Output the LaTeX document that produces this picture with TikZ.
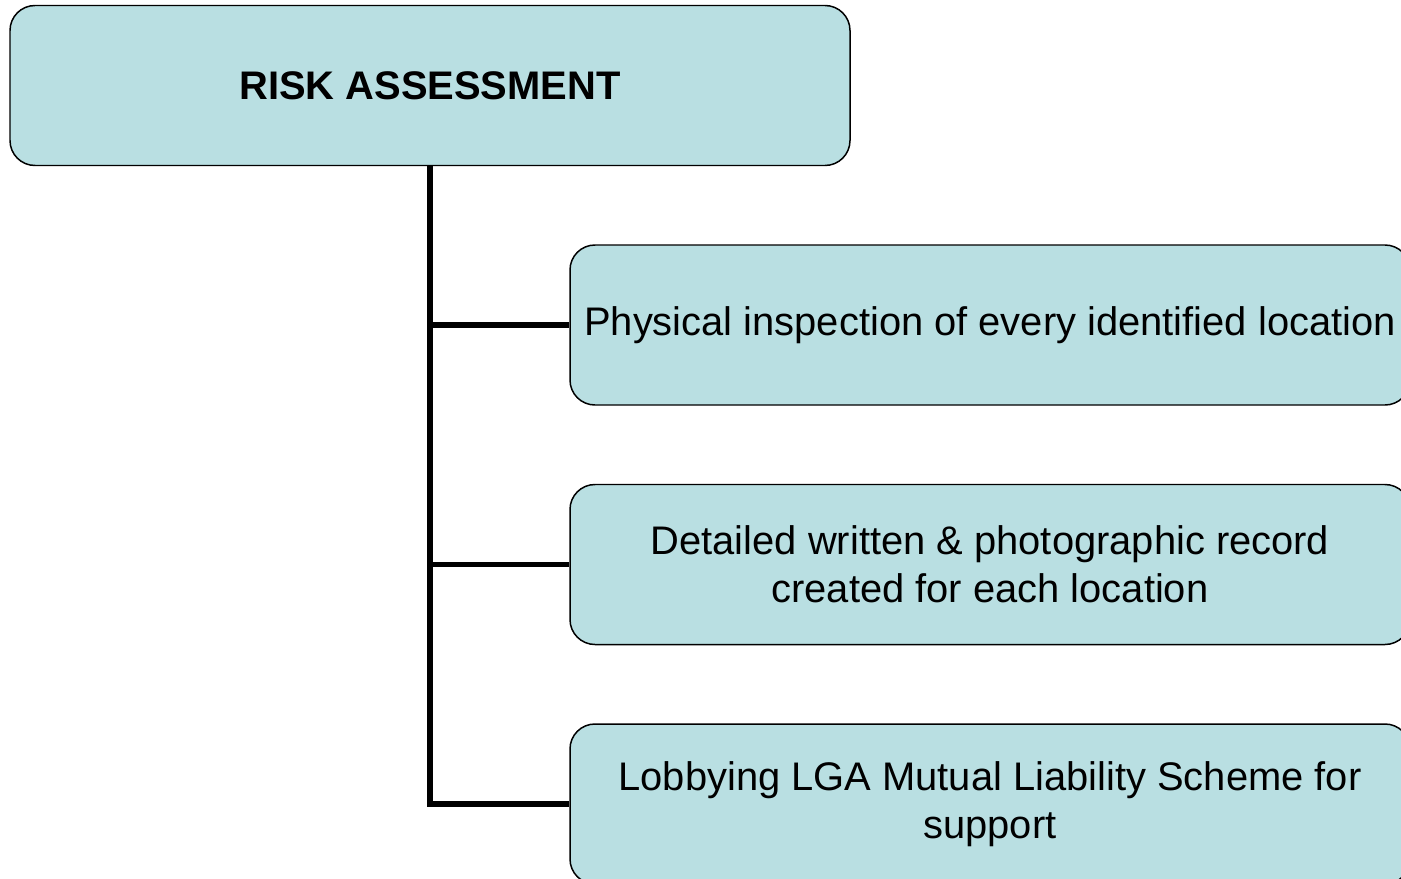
\documentclass[tikz,border=0pt]{standalone}
\usepackage{fontspec}
\setmainfont{Liberation Sans}
\definecolor{boxblue}{HTML}{B9DFE2}
\begin{document}
\begin{tikzpicture}[
    box/.style={draw=black, line width=0.85pt, fill=boxblue, rounded corners=0.5cm,
        minimum width=16.8cm, minimum height=3.2cm, align=center,
        font=\fontsize{22.7}{27.2}\selectfont},
    trunk/.style={line width=3.4pt}
]
    \clip (0,0) rectangle (28.02,-17.58);
    \useasboundingbox (0,0) rectangle (28.02,-17.58);

    % Boxes
    \node[box, font=\fontsize{22.7}{27.2}\selectfont\bfseries] (risk) at (8.6,-1.71) {RISK ASSESSMENT};
    \node[box] (inspect) at (19.8,-6.5) {Physical inspection of every identified location};
    \node[box] (record) at (19.8,-11.29) {Detailed written \& photographic record\\created for each location};
    \node[box] (lobby) at (19.8,-16.08) {Lobbying LGA Mutual Liability Scheme for\\support};

    % Connectors
    \draw[trunk] (risk.south) |- (lobby.west);
    \draw[trunk] (risk.south |- inspect.west) -- (inspect.west);
    \draw[trunk] (risk.south |- record.west) -- (record.west);
\end{tikzpicture}
\end{document}
